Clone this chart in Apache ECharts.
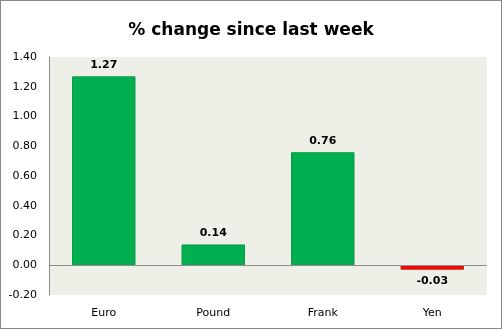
<!DOCTYPE html>
<html>
<head>
<meta charset="utf-8">
<script src="https://cdn.jsdelivr.net/npm/echarts@6/dist/echarts.min.js"></script>
<style>
  html, body { margin: 0; padding: 0; background: #fff; }
  #chart { width: 502px; height: 329px; box-sizing: border-box; border: 1px solid #8a8a8a; }
</style>
</head>
<body>
<div id="chart"></div>
<script>
// Weekly currency moves (% change)
const titleText = '% change since last week';
const categories = ['Euro', 'Pound', 'Frank', 'Yen'];
const changes = [1.27, 0.14, 0.76, -0.03];
const yTicks = { min: -0.2, max: 1.4, step: 0.2 };

const FONT = 'DejaVu Sans';
const chart = echarts.init(document.getElementById('chart'), null, { renderer: 'canvas' });

chart.setOption({
  animation: false,
  backgroundColor: '#ffffff',
  title: {
    text: titleText,
    left: 'center',
    top: 16,
    textStyle: { fontFamily: FONT, fontSize: 17, fontWeight: 'bold', color: '#000' }
  },
  grid: {
    left: 48, right: 14, top: 56, bottom: 33,
    show: true, backgroundColor: '#eef0e8', borderWidth: 0
  },
  xAxis: {
    type: 'category',
    data: categories,
    axisLine: { show: false },
    axisTick: { show: false },
    axisLabel: { fontFamily: FONT, fontSize: 11, color: '#000', margin: 0,
      verticalAlign: 'top', padding: [13, 0, 0, 0] }
  },
  yAxis: {
    type: 'value',
    min: yTicks.min, max: yTicks.max, interval: yTicks.step,
    axisLine: { show: true, lineStyle: { color: '#8c8c8c', width: 1 } },
    axisTick: { show: false },
    splitLine: { show: false },
    axisLabel: { fontFamily: FONT, fontSize: 11, color: '#000', margin: 12,
      formatter: v => v.toFixed(2) }
  },
  series: [{
    type: 'bar',
    data: changes.map(v => ({
      value: v,
      itemStyle: { color: v >= 0 ? '#00b050' : '#ff0000', borderColor: v >= 0 ? '#0a9a48' : '#c02a10', borderWidth: 1 },
      label: { position: v >= 0 ? 'top' : 'bottom' }
    })),
    barWidth: '58%',
    label: {
      show: true,
      distance: 6,
      fontFamily: FONT, fontSize: 11, fontWeight: 'bold', color: '#000',
      formatter: p => p.value.toFixed(2)
    },
    markLine: {
      silent: true,
      symbol: 'none',
      label: { show: false },
      lineStyle: { color: '#8c8c8c', width: 1, type: 'solid' },
      data: [{ yAxis: 0 }]
    }
  }]
});
</script>
</body>
</html>
